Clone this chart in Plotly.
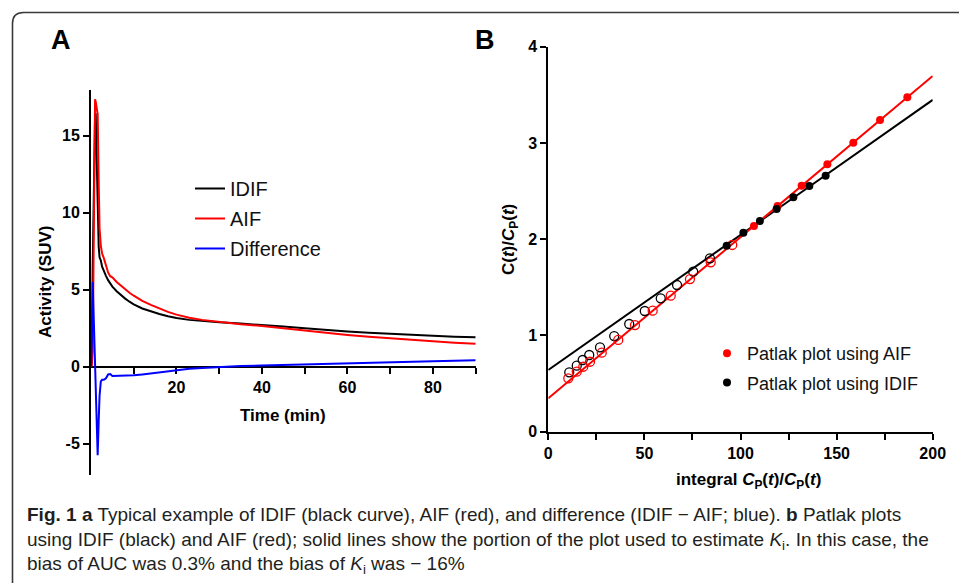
import plotly.graph_objects as go

W, H = 959, 583

# ---------------- Panel A data (time-activity curves) ----------------
time_min = [0, 0.2, 0.4, 0.6, 0.8, 0.95, 1.1, 1.3, 1.56, 1.8, 2.0, 2.3, 2.6, 3.0, 3.5,
            4.0, 4.5, 5.0, 6, 7, 8, 9, 10, 12, 14, 16, 18, 20, 23, 26, 30, 35, 40,
            45, 50, 55, 60, 65, 70, 75, 80, 85, 90]
idif = [0, 1.0, 6.5, 11.5, 15.2, 16.3, 16.45, 13.5, 10.5, 7.8, 7.1, 6.9, 6.5, 6.2, 5.9,
        5.62, 5.4, 5.2, 4.9, 4.65, 4.42, 4.22, 4.05, 3.78, 3.58, 3.42, 3.28, 3.16, 3.04,
        2.96, 2.88, 2.8, 2.72, 2.61, 2.5, 2.38, 2.28, 2.2, 2.13, 2.06, 2.0, 1.95, 1.91]
aif = [0, 0.1, 1.0, 8.0, 15.5, 17.36, 17.2, 16.9, 16.4, 12.0, 9.0, 7.85, 7.35, 7.05, 6.65,
       6.12, 5.88, 5.8, 5.5, 5.25, 5.02, 4.8, 4.61, 4.28, 4.01, 3.77, 3.56, 3.38, 3.18,
       3.04, 2.9, 2.76, 2.64, 2.49, 2.35, 2.19, 2.06, 1.94, 1.84, 1.74, 1.64, 1.56, 1.49]
difference = [0, 1.5, 5.5, 3.6, 1.5, -0.2, -1.6, -3.5, -5.75, -3.5, -1.9, -0.95, -0.85,
              -0.85, -0.75, -0.5, -0.48, -0.6, -0.6, -0.6, -0.6, -0.58, -0.56, -0.5,
              -0.43, -0.35, -0.28, -0.22, -0.14, -0.08, -0.02, 0.04, 0.08, 0.12, 0.15,
              0.19, 0.22, 0.26, 0.29, 0.32, 0.36, 0.39, 0.42]

# ---------------- Panel B data (Patlak plots) ----------------
aif_x_open = [10.4, 14.8, 18.2, 21.7, 27.8, 36.4, 45.1, 54.3, 63.7, 73.7, 84.5, 95.7]
aif_y_open = [0.555, 0.624, 0.675, 0.727, 0.821, 0.953, 1.108, 1.257, 1.413, 1.586, 1.76, 1.94]
aif_x_fit = [107.0, 119.3, 131.8, 145.2, 158.7, 172.6, 186.8]
aif_y_fit = [2.137, 2.345, 2.556, 2.778, 3.003, 3.238, 3.474]
idif_x_open = [10.9, 14.8, 17.9, 21.3, 26.9, 34.3, 42.1, 50.2, 58.5, 67.0, 75.4, 84.1]
idif_y_open = [0.617, 0.686, 0.745, 0.797, 0.877, 0.994, 1.119, 1.254, 1.386, 1.524, 1.662, 1.801]
idif_x_fit = [92.8, 101.5, 110.1, 118.8, 127.5, 135.8, 144.3]
idif_y_fit = [1.932, 2.068, 2.189, 2.314, 2.435, 2.553, 2.66]
fit_x = [0, 200]
aif_intercept, aif_slope = 0.347, 0.01674
idif_intercept, idif_slope = 0.641, 0.01403

a_xticks = [20, 40, 60, 80]
a_xminor = [10, 30, 50, 70, 90]
a_yticks = [-5, 0, 5, 10, 15]
b_xticks = [0, 50, 100, 150, 200]
b_xminor = [25, 75, 125, 175]
b_yticks = [0, 1, 2, 3, 4]


def px(x):
    return x / W


def py(y):
    return 1 - y / H


RED = "#ff0000"
BLUE = "#0000ff"
BLACK = "#000000"
TICKFONT = dict(family="Liberation Sans, Arial", size=16, color=BLACK, weight="bold")

fig = go.Figure()

# Panel A traces
fig.add_trace(go.Scatter(x=time_min, y=idif, mode="lines", name="IDIF",
                         line=dict(color=BLACK, width=2), xaxis="x", yaxis="y",
                         legend="legend", legendgroup="a1"))
fig.add_trace(go.Scatter(x=time_min, y=aif, mode="lines", name="AIF",
                         line=dict(color=RED, width=2), xaxis="x", yaxis="y",
                         legend="legend", legendgroup="a2"))
fig.add_trace(go.Scatter(x=time_min, y=difference, mode="lines", name="Difference",
                         line=dict(color=BLUE, width=2), xaxis="x", yaxis="y",
                         legend="legend", legendgroup="a3"))

# Panel B traces
fit_aif_y = [aif_intercept + aif_slope * v for v in fit_x]
fit_idif_y = [idif_intercept + idif_slope * v for v in fit_x]
fig.add_trace(go.Scatter(x=fit_x, y=fit_idif_y, mode="lines", showlegend=False,
                         line=dict(color=BLACK, width=2), xaxis="x2", yaxis="y2"))
fig.add_trace(go.Scatter(x=fit_x, y=fit_aif_y, mode="lines", showlegend=False,
                         line=dict(color=RED, width=2), xaxis="x2", yaxis="y2"))
fig.add_trace(go.Scatter(x=idif_x_open, y=idif_y_open, mode="markers", showlegend=False,
                         marker=dict(symbol="circle-open", size=9, color=BLACK,
                                     line=dict(width=1.3)),
                         xaxis="x2", yaxis="y2"))
fig.add_trace(go.Scatter(x=aif_x_open, y=aif_y_open, mode="markers", showlegend=False,
                         marker=dict(symbol="circle-open", size=9, color=RED,
                                     line=dict(width=1.3)),
                         xaxis="x2", yaxis="y2"))
fig.add_trace(go.Scatter(x=aif_x_fit, y=aif_y_fit, mode="markers",
                         name="Patlak plot using AIF",
                         marker=dict(symbol="circle", size=8, color=RED),
                         xaxis="x2", yaxis="y2", legend="legend2", legendgroup="b1"))
fig.add_trace(go.Scatter(x=idif_x_fit, y=idif_y_fit, mode="markers",
                         name="Patlak plot using IDIF",
                         marker=dict(symbol="circle", size=8, color=BLACK),
                         xaxis="x2", yaxis="y2", legend="legend2", legendgroup="b2"))

# Axes geometry (pixels -> paper)
a_ymin, a_ymax = -7, 18
a_dom_y = [py(474.5), py(89.5)]
a_zero_pos = a_dom_y[0] + (0 - a_ymin) / (a_ymax - a_ymin) * (a_dom_y[1] - a_dom_y[0])

axis_common = dict(showgrid=False, zeroline=False, showline=True, linecolor=BLACK,
                   linewidth=2, ticks="outside", ticklen=6, tickwidth=2,
                   tickcolor=BLACK, tickfont=TICKFONT, layer="below traces",
                   automargin=False)

fig.update_layout(
    width=W, height=H,
    margin=dict(l=0, r=0, t=0, b=0),
    paper_bgcolor="white", plot_bgcolor="white",
    xaxis=dict(domain=[px(91), px(475.7)], range=[0, 90], anchor="free",
               position=a_zero_pos, tickmode="array", tickvals=a_xticks,
               ticktext=[str(v) for v in a_xticks],
               minor=dict(tickmode="array", tickvals=a_xminor, ticks="outside",
                          ticklen=6, tickwidth=2, tickcolor=BLACK, showgrid=False),
               **axis_common),
    yaxis=dict(domain=a_dom_y, range=[a_ymin, a_ymax], anchor="x",
               tickmode="array", tickvals=a_yticks,
               ticktext=[str(v) for v in a_yticks], **axis_common),
    xaxis2=dict(domain=[px(548.3), px(932.7)], range=[0, 200], anchor="y2",
                tickmode="array", tickvals=b_xticks,
                ticktext=[str(v) for v in b_xticks],
                minor=dict(tickmode="array", tickvals=b_xminor, ticks="outside",
                           ticklen=6, tickwidth=2, tickcolor=BLACK, showgrid=False),
                **axis_common),
    yaxis2=dict(domain=[py(431.7), py(46.7)], range=[0, 4], anchor="x2",
                tickmode="array", tickvals=b_yticks,
                ticktext=[str(v) for v in b_yticks], **axis_common),
    legend=dict(x=px(190), y=py(169), xanchor="left", yanchor="top",
                bgcolor="rgba(0,0,0,0)", tracegroupgap=1,
                font=dict(family="Liberation Sans, Arial", size=20, color="#111111")),
    legend2=dict(x=px(707), y=py(335), xanchor="left", yanchor="top",
                 bgcolor="rgba(0,0,0,0)", tracegroupgap=3,
                 font=dict(family="Liberation Sans, Arial", size=18, color="#111111")),
    showlegend=True,
)

TITLEFONT = dict(family="Liberation Sans, Arial", size=17, color=BLACK, weight="bold")
annotations = [
    dict(text="A", x=px(61), y=py(40), font=dict(family="Liberation Sans, Arial", size=27,
                                                 color=BLACK, weight="bold")),
    dict(text="B", x=px(485), y=py(40), font=dict(family="Liberation Sans, Arial", size=27,
                                                  color=BLACK, weight="bold")),
    dict(text="Activity (SUV)", x=px(45), y=py(282), textangle=-90, font=TITLEFONT),
    dict(text="Time (min)", x=px(283), y=py(415), font=TITLEFONT),
    dict(text="C(<i>t</i>)/<i>C</i><sub>P</sub>(<i>t</i>)", x=px(510), y=py(240),
         textangle=-90, font=TITLEFONT),
    dict(text="integral <i>C</i><sub>P</sub>(<i>t</i>)/<i>C</i><sub>P</sub>(<i>t</i>)",
         x=px(748), y=py(481), font=TITLEFONT),
    dict(text=("<b>Fig. 1 a</b> Typical example of IDIF (black curve), AIF (red), and "
               "difference (IDIF − AIF; blue). <b>b</b> Patlak plots<br>"
               "using IDIF (black) and AIF (red); solid lines show the portion of the plot "
               "used to estimate <i>K</i><sub>i</sub>. In this case, the<br>"
               "bias of AUC was 0.3% and the bias of <i>K</i><sub>i</sub> was − 16%"),
         x=px(25), y=py(502), xanchor="left", yanchor="top", align="left",
         font=dict(family="Liberation Sans Narrow, Liberation Sans", size=19,
                   color="#231f20")),
]
for a in annotations:
    a.setdefault("xref", "paper")
    a.setdefault("yref", "paper")
    a.setdefault("showarrow", False)
    a.setdefault("xanchor", "center")
    a.setdefault("yanchor", "middle")
fig.update_layout(annotations=annotations)

# Rounded frame (left and top edges)
r = 11
frame = (f"M {px(12.5)},{py(583)} L {px(12.5)},{py(12.5 + r)} "
         f"Q {px(12.5)},{py(12.5)} {px(12.5 + r)},{py(12.5)} L {px(959)},{py(12.5)}")
fig.add_shape(type="path", path=frame, xref="paper", yref="paper",
              line=dict(color="#3a3a3a", width=1.6))

fig.write_html(
    "out.html",
    config=dict(staticPlot=True, displayModeBar=False),
    post_script=("document.body.style.margin='0';document.body.style.padding='0';"
                 "document.documentElement.style.overflow='hidden';"),
)
